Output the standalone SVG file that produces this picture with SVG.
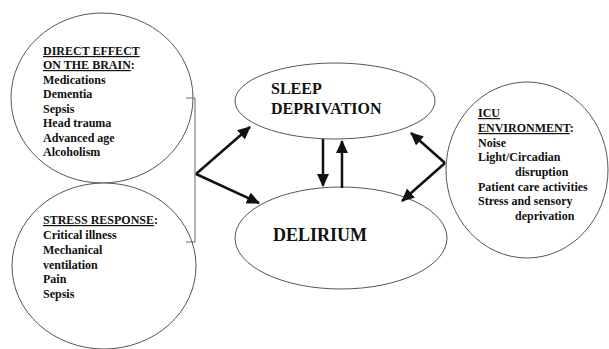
<svg xmlns="http://www.w3.org/2000/svg" width="609" height="349" viewBox="0 0 609 349">
<style>
.node{fill:#fff;stroke:#555;stroke-width:1}
.t{font-family:'Liberation Serif','Times New Roman',Times,'DejaVu Serif',serif;font-weight:bold;fill:#111;font-size:12px}
.big{font-size:16px}
.huge{font-size:18px}
.u{text-decoration:underline}
.arr{stroke:#111;stroke-width:2.5;fill:none;marker-end:url(#ah)}
.br{stroke:#666;stroke-width:1;fill:none}
</style>
<defs>
<marker id="ah" markerUnits="userSpaceOnUse" markerWidth="14" markerHeight="12" refX="12" refY="6" orient="auto">
<path d="M0,0 L13,6 L0,12 Z" fill="#111"/>
</marker>
</defs>
<g id="direct-effect">
<ellipse class="node" cx="102" cy="98" rx="91" ry="85"/>
<text class="t" x="43" y="55"><tspan class="u">DIRECT EFFECT</tspan></text>
<text class="t" x="43" y="69"><tspan class="u">ON THE BRAIN</tspan>:</text>
<text class="t" x="43" y="84">Medications</text>
<text class="t" x="43" y="98">Dementia</text>
<text class="t" x="43" y="113">Sepsis</text>
<text class="t" x="43" y="127">Head trauma</text>
<text class="t" x="43" y="142">Advanced age</text>
<text class="t" x="43" y="156">Alcoholism</text>
</g>
<g id="stress-response">
<ellipse class="node" cx="104" cy="266" rx="92" ry="83"/>
<text class="t" x="43" y="224"><tspan class="u">STRESS RESPONSE</tspan>:</text>
<text class="t" x="43" y="239">Critical illness</text>
<text class="t" x="43" y="254">Mechanical</text>
<text class="t" x="43" y="269">ventilation</text>
<text class="t" x="43" y="283">Pain</text>
<text class="t" x="43" y="298">Sepsis</text>
</g>
<g id="sleep-deprivation">
<ellipse class="node" cx="335" cy="101" rx="100" ry="38"/>
<text class="t big" x="271" y="94">SLEEP</text>
<text class="t big" x="271" y="114">DEPRIVATION</text>
</g>
<g id="delirium">
<ellipse class="node" cx="341" cy="238" rx="106" ry="51"/>
<text class="t huge" x="273" y="241">DELIRIUM</text>
</g>
<g id="icu-environment">
<ellipse class="node" cx="527" cy="170" rx="81" ry="88"/>
<text class="t" x="478" y="117"><tspan class="u">ICU</tspan></text>
<text class="t" x="478" y="132"><tspan class="u">ENVIRONMENT</tspan>:</text>
<text class="t" x="478" y="147">Noise</text>
<text class="t" x="478" y="161">Light/Circadian</text>
<text class="t" x="515" y="176">disruption</text>
<text class="t" x="478" y="191">Patient care activities</text>
<text class="t" x="478" y="205">Stress and sensory</text>
<text class="t" x="515" y="220">deprivation</text>
</g>
<g id="connectors">
<path class="br" d="M186,98 H195 V242 H186"/>
<line class="arr" x1="196" y1="174" x2="250" y2="127"/>
<line class="arr" x1="196" y1="174" x2="259" y2="203"/>
<line class="arr" x1="323" y1="139" x2="323" y2="186"/>
<line class="arr" x1="342" y1="188" x2="342" y2="141"/>
<line class="arr" x1="445" y1="163" x2="411" y2="133"/>
<line class="arr" x1="445" y1="163" x2="402" y2="201"/>
</g>
</svg>
